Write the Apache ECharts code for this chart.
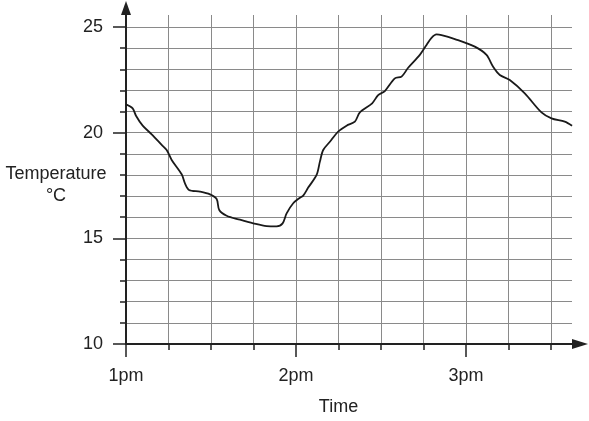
<!DOCTYPE html>
<html>
<head>
<meta charset="utf-8">
<script src="https://cdn.jsdelivr.net/npm/echarts@6/dist/echarts.min.js"></script>
<style>
html,body{margin:0;padding:0;background:#fff;}
#chart{width:589px;height:421px;}
</style>
</head>
<body>
<div id="chart"></div>
<script>
// minutes after 1pm
const minutes = [0, 2.36, 3.53, 5.89, 9.07, 12.6, 14.36, 16.13, 19.66, 20.82, 22.24, 26.12, 29.65, 32.01, 32.93, 35.54, 40.24, 44.93, 49.66, 53.19, 55.31, 56.72, 59.05, 61.41, 62.58, 64.34, 67.31, 68.47, 69.64, 72.0, 74.93, 77.89, 80.82, 82.59, 86.93, 89.05, 91.41, 94.94, 97.31, 99.64, 103.76, 106.13, 107.89, 109.66, 111.42, 116.12, 123.18, 127.31, 129.64, 132.0, 135.53, 140.82, 146.72, 150.25, 154.94, 157.52];
const temperature = [21.34, 21.15, 20.80, 20.33, 19.92, 19.42, 19.18, 18.71, 18.03, 17.60, 17.29, 17.21, 17.08, 16.86, 16.34, 16.07, 15.88, 15.71, 15.58, 15.57, 15.71, 16.18, 16.66, 16.92, 17.02, 17.40, 18.00, 18.63, 19.18, 19.57, 20.05, 20.33, 20.52, 20.96, 21.39, 21.78, 21.97, 22.57, 22.65, 23.07, 23.68, 24.15, 24.49, 24.65, 24.62, 24.43, 24.07, 23.68, 23.12, 22.73, 22.49, 21.86, 20.96, 20.68, 20.52, 20.33];
const timeTickValues = [0, 60, 120];
const timeTickLabels = ['1pm', '2pm', '3pm'];
const yTicks = [10, 15, 20, 25];

const FONT = 'Liberation Sans';
const TXT = '#222';
const GRID = '#8a8a8a';
const AX = '#222';

const chart = echarts.init(document.getElementById('chart'));
chart.setOption({
  animation: false,
  backgroundColor: '#fff',
  grid: [
    {left: 126, right: 17, top: 27, bottom: 77, containLabel: false, outerBoundsMode: 'none'},
    {left: 126, right: 38, top: 15, bottom: 77, containLabel: false, outerBoundsMode: 'none'}
  ],
  xAxis: [
    {
      type: 'value', gridIndex: 0, min: 0, max: 157.5,
      axisLine: {show: true, symbol: ['none', 'triangle'], symbolSize: [10, 16], symbolOffset: [0, 8],
        lineStyle: {color: AX, width: 2}},
      axisTick: {show: false}, axisLabel: {show: false}, splitLine: {show: false}
    },
    {
      type: 'value', gridIndex: 1, min: 0, max: 150, interval: 15, position: 'bottom',
      axisLine: {show: false},
      axisTick: {show: true, length: 6, lineStyle: {color: AX, width: 1.5}},
      splitLine: {show: true, lineStyle: {color: GRID, width: 1}},
      axisLabel: {show: true, margin: 23, fontFamily: FONT, fontSize: 18, color: TXT,
        formatter: function (v) { const i = timeTickValues.indexOf(v); return i >= 0 ? timeTickLabels[i] : ''; }},
      name: 'Time', nameLocation: 'middle', nameGap: 54, nameMoveOverlap: false,
      nameTextStyle: {fontFamily: FONT, fontSize: 18, color: TXT}
    },
    {
      type: 'value', gridIndex: 1, min: 0, max: 150, interval: 15, position: 'bottom',
      axisLine: {show: false},
      axisTick: {show: true, length: 13, customValues: timeTickValues, lineStyle: {color: AX, width: 1.5}},
      splitLine: {show: false}, axisLabel: {show: false}
    }
  ],
  yAxis: [
    {
      type: 'value', gridIndex: 0, min: yTicks[0], max: yTicks[yTicks.length - 1], interval: 5,
      axisLine: {show: false},
      axisTick: {show: true, length: 13, lineStyle: {color: AX, width: 1.5}},
      minorTick: {show: true, splitNumber: 5, length: 6, lineStyle: {color: AX, width: 1.5}},
      splitLine: {show: true, lineStyle: {color: GRID, width: 1}},
      minorSplitLine: {show: true, lineStyle: {color: GRID, width: 1}},
      axisLabel: {margin: 23, fontFamily: FONT, fontSize: 18, color: TXT},
      name: 'Temperature\n°C', nameLocation: 'middle', nameRotate: 0, nameGap: 70, nameMoveOverlap: false,
      nameTextStyle: {fontFamily: FONT, fontSize: 18, color: TXT, align: 'center', verticalAlign: 'middle', lineHeight: 22}
    },
    {
      type: 'value', gridIndex: 1, min: 0, max: 1,
      axisLine: {show: true, symbol: ['none', 'triangle'], symbolSize: [10, 14], symbolOffset: [0, 7],
        lineStyle: {color: AX, width: 2}},
      axisTick: {show: false}, axisLabel: {show: false}, splitLine: {show: false}
    }
  ],
  series: [{
    type: 'line', xAxisIndex: 0, yAxisIndex: 0,
    data: minutes.map((m, i) => [m, temperature[i]]),
    showSymbol: false, smooth: 0.3,
    lineStyle: {color: '#1a1a1a', width: 1.8}
  }]
});
</script>
</body>
</html>
